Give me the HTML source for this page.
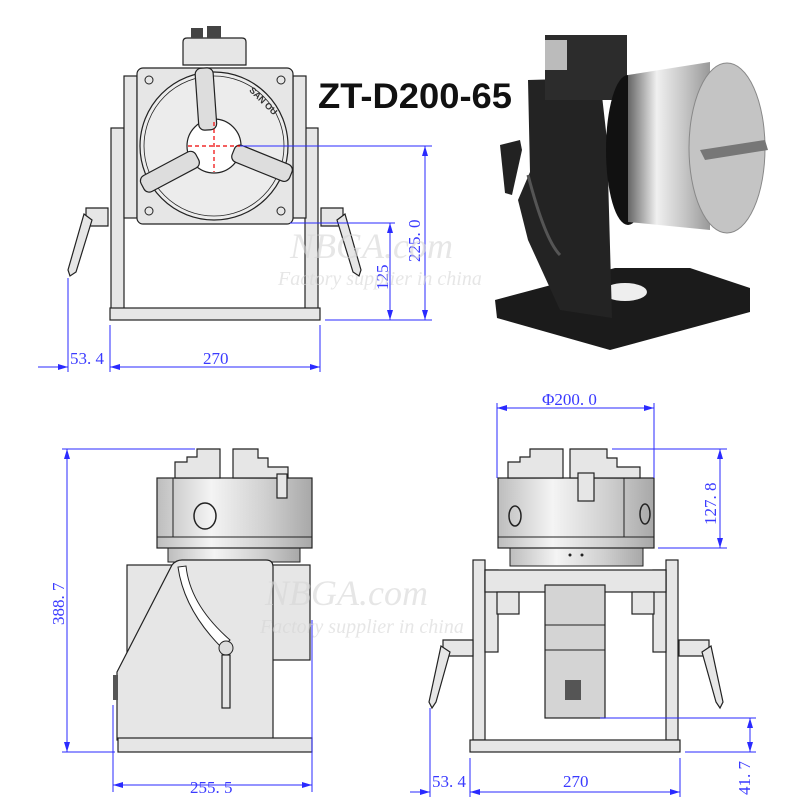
<!DOCTYPE html>
<html><head><meta charset="utf-8"><style>
html,body{margin:0;padding:0;background:#fff;width:800px;height:800px;overflow:hidden}
svg{display:block}
.d{fill:#3a3aff;font-family:"Liberation Serif",serif;font-size:17px}
.b{stroke:#2a2aff;stroke-width:1;fill:none}
.p{fill:#e6e6e6;stroke:#222;stroke-width:1.2}
.q{fill:#d4d4d4;stroke:#222;stroke-width:1.2}
</style></head><body>
<svg width="800" height="800" viewBox="0 0 800 800" xmlns="http://www.w3.org/2000/svg">
<defs>
<linearGradient id="cyl" x1="0" x2="1" y1="0" y2="0">
<stop offset="0" stop-color="#bdbdbd"/><stop offset="0.35" stop-color="#f4f4f4"/><stop offset="0.7" stop-color="#d0d0d0"/><stop offset="1" stop-color="#a8a8a8"/></linearGradient>
<linearGradient id="ph" x1="0" x2="1" y1="0" y2="0">
<stop offset="0" stop-color="#666"/><stop offset="0.35" stop-color="#f0f0f0"/><stop offset="0.7" stop-color="#c4c4c4"/><stop offset="1" stop-color="#999"/></linearGradient>
<marker id="a" viewBox="0 0 10 6" refX="10" refY="3" markerWidth="10" markerHeight="6" orient="auto-start-reverse" markerUnits="userSpaceOnUse"><path d="M0 0 L10 3 L0 6 Z" fill="#2a2aff"/></marker>
</defs>

<!-- ===== TOP LEFT FRONT VIEW ===== -->
<rect x="111" y="128" width="13" height="182" class="p"/>
<rect x="305" y="128" width="13" height="182" class="p"/>
<rect x="124" y="76" width="13" height="142" class="p"/>
<rect x="293" y="76" width="13" height="142" class="p"/>
<rect x="110" y="308" width="210" height="12" class="p"/>
<path d="M183 65 L183 42 Q183 38 187 38 L242 38 Q246 38 246 42 L246 65 Z" class="p"/>
<rect x="191" y="28" width="12" height="10" fill="#444"/><rect x="207" y="26" width="14" height="12" fill="#444"/>
<rect x="137" y="68" width="156" height="156" rx="6" class="p"/>
<circle cx="214" cy="146" r="74" fill="#ececec" stroke="#222" stroke-width="1.2"/>
<circle cx="214" cy="146" r="70" fill="none" stroke="#222" stroke-width="0.8"/>
<circle cx="214" cy="146" r="27" fill="#fff" stroke="#222" stroke-width="1.2"/>
<circle cx="149" cy="80" r="4" fill="none" stroke="#222"/><circle cx="281" cy="80" r="4" fill="none" stroke="#222"/>
<circle cx="149" cy="211" r="4" fill="none" stroke="#222"/><circle cx="281" cy="211" r="4" fill="none" stroke="#222"/>
<g fill="#ddd" stroke="#222" stroke-width="1.2">
<rect x="197" y="68" width="18" height="62" rx="6" transform="rotate(-4 206 100)"/>
<rect x="203" y="68" width="18" height="62" rx="6" transform="rotate(112 214 146) translate(0 -4)"/>
<rect x="203" y="68" width="18" height="62" rx="6" transform="rotate(-118 214 146) translate(0 -4)"/>
</g>
<path d="M188 146 H240 M214 122 V172" stroke="#e00" stroke-dasharray="4 3" stroke-width="1.2"/>
<text x="245" y="100" font-family="Liberation Sans,sans-serif" font-size="9" font-weight="bold" fill="#333" transform="rotate(45 258 100)">SAN OU</text>
<g class="p">
<path d="M86 208 L108 208 L108 226 L86 226 Z"/>
<path d="M84 214 L92 220 L76 272 L70 276 L68 270 Z"/>
<path d="M343 208 L321 208 L321 226 L343 226 Z"/>
<path d="M345 214 L337 220 L353 272 L359 276 L361 270 Z"/>
</g>
<text x="318" y="108" font-family="Liberation Sans,sans-serif" font-weight="bold" font-size="35" fill="#111" textLength="194" lengthAdjust="spacingAndGlyphs">ZT-D200-65</text>
<!-- dims top -->
<g class="b">
<path d="M68 278 V372 M110 325 V372 M320 325 V372"/>
<path d="M38 367 H68" marker-end="url(#a)"/>
<path d="M110 367 H320" marker-start="url(#a)" marker-end="url(#a)"/>
<path d="M240 146 H432 M325 320 H432"/>
<path d="M425 146 V320" marker-start="url(#a)" marker-end="url(#a)"/>
<path d="M290 223 H395"/>
<path d="M390 223 V320" marker-start="url(#a)" marker-end="url(#a)"/>
</g>
<text class="d" x="70" y="364">53. 4</text>
<text class="d" x="203" y="364">270</text>
<text class="d" transform="translate(420 262) rotate(-90)">225. 0</text>
<text class="d" transform="translate(388 290) rotate(-90)">125</text>

<!-- ===== PHOTO ===== -->
<polygon points="497,318 495,300 615,268 690,268 750,288 750,312 610,350" fill="#1b1b1b"/>
<ellipse cx="625" cy="292" rx="22" ry="9" fill="#eee"/>
<polygon points="528,80 600,78 607,140 612,318 560,310 528,240 518,200 530,172" fill="#232323"/>
<path d="M528 175 Q545 240 560 255" stroke="#555" stroke-width="3" fill="none"/>
<rect x="545" y="35" width="82" height="65" fill="#2c2c2c"/>
<rect x="545" y="40" width="22" height="30" fill="#bbb"/>
<ellipse cx="628" cy="150" rx="22" ry="75" fill="#111"/>
<path d="M628 75 L710 62 L710 230 L628 222 Z" fill="url(#ph)"/>
<ellipse cx="727" cy="148" rx="38" ry="85" fill="#c4c4c4" stroke="#888"/>
<path d="M700 150 L765 140 L768 150 L705 160 Z" fill="#777"/>
<path d="M500 145 L520 140 L522 150 L512 195 L505 193 Z" fill="#222"/>

<!-- ===== BOTTOM LEFT SIDE VIEW ===== -->
<rect x="127" y="565" width="183" height="95" class="p"/>
<rect x="168" y="548" width="132" height="14" fill="url(#cyl)" stroke="#222"/>
<rect x="157" y="478" width="155" height="70" fill="url(#cyl)" stroke="#222" stroke-width="1.2"/>
<line x1="157" y1="537" x2="312" y2="537" stroke="#222"/>
<line x1="173" y1="478" x2="173" y2="537" stroke="#222"/>
<ellipse cx="205" cy="516" rx="11" ry="13" fill="none" stroke="#222" stroke-width="1.5"/>
<path d="M175 478 V462 H187 V457 H197 V449 H220 V478 Z" class="p"/>
<path d="M233 478 V449 H258 V458 H268 V467 H288 V478 Z" class="p"/>
<rect x="277" y="474" width="10" height="24" class="p"/>
<path d="M117 740 L117 672 L172 565 Q176 560 182 560 L266 560 Q273 560 273 567 L273 740 Z" class="p"/>
<path d="M178 567 Q184 610 222 648 L230 640 Q190 605 186 566 Z" fill="#fff" stroke="#222"/>
<circle cx="226" cy="648" r="7" fill="#ddd" stroke="#222"/>
<rect x="222" y="655" width="8" height="53" class="p"/>
<rect x="113" y="675" width="5" height="25" fill="#555"/>
<rect x="118" y="738" width="194" height="14" class="p"/>
<g class="b">
<path d="M62 449 H195 M62 752 H115"/>
<path d="M67 449 V752" marker-start="url(#a)" marker-end="url(#a)"/>
<path d="M113 705 V792 M312 620 V792"/>
<path d="M113 785 H312" marker-start="url(#a)" marker-end="url(#a)"/>
</g>
<text class="d" transform="translate(64 625) rotate(-90)">388. 7</text>
<text class="d" x="190" y="793">255. 5</text>

<!-- ===== BOTTOM RIGHT FRONT VIEW ===== -->
<rect x="473" y="560" width="12" height="180" class="p"/>
<rect x="666" y="560" width="12" height="180" class="p"/>
<rect x="485" y="570" width="13" height="82" class="p"/>
<rect x="653" y="570" width="13" height="82" class="p"/>
<rect x="485" y="570" width="181" height="22" class="p"/>
<rect x="497" y="592" width="22" height="22" class="p"/><rect x="632" y="592" width="22" height="22" class="p"/>
<rect x="545" y="585" width="60" height="133" class="q"/>
<line x1="545" y1="625" x2="605" y2="625" stroke="#222"/>
<line x1="545" y1="650" x2="605" y2="650" stroke="#222"/>
<rect x="565" y="680" width="16" height="20" fill="#555"/>
<rect x="510" y="548" width="133" height="18" fill="url(#cyl)" stroke="#222"/>
<rect x="498" y="478" width="156" height="70" fill="url(#cyl)" stroke="#222" stroke-width="1.2"/>
<line x1="498" y1="537" x2="654" y2="537" stroke="#222"/>
<line x1="624" y1="478" x2="624" y2="537" stroke="#222"/>
<ellipse cx="515" cy="516" rx="6" ry="10" fill="none" stroke="#222" stroke-width="1.5"/>
<ellipse cx="645" cy="514" rx="5" ry="10" fill="none" stroke="#222" stroke-width="1.5"/>
<path d="M508 478 V462 H520 V457 H530 V449 H563 V478 Z" class="p"/>
<path d="M570 478 V449 H607 V458 H617 V467 H640 V478 Z" class="p"/>
<rect x="578" y="473" width="16" height="28" class="p"/>
<circle cx="570" cy="555" r="1.5" fill="#222"/><circle cx="582" cy="555" r="1.5" fill="#222"/>
<rect x="470" y="740" width="210" height="12" class="p"/>
<g class="p">
<path d="M443 640 L473 640 L473 656 L443 656 Z"/>
<path d="M441 646 L450 652 L436 702 L432 708 L429 702 Z"/>
<path d="M709 640 L679 640 L679 656 L709 656 Z"/>
<path d="M711 646 L702 652 L716 702 L720 708 L723 702 Z"/>
</g>
<g class="b">
<path d="M497 403 V478 M654 403 V478"/>
<path d="M497 408 H654" marker-start="url(#a)" marker-end="url(#a)"/>
<path d="M612 449 H727 M658 548 H727"/>
<path d="M720 449 V548" marker-start="url(#a)" marker-end="url(#a)"/>
<path d="M600 718 H756 M685 752 H756"/>
<path d="M750 718 V752" marker-start="url(#a)" marker-end="url(#a)"/>
<path d="M430 708 V797 M470 758 V797 M680 758 V797"/>
<path d="M410 792 H430" marker-end="url(#a)"/>
<path d="M470 792 H680" marker-start="url(#a)" marker-end="url(#a)"/>
</g>
<text class="d" x="542" y="405">Φ200. 0</text>
<text class="d" transform="translate(716 525) rotate(-90)">127. 8</text>
<text class="d" transform="translate(750 795) rotate(-90)">41. 7</text>
<text class="d" x="432" y="787">53. 4</text>
<text class="d" x="563" y="787">270</text>

<!-- watermarks -->
<g fill="#d6d6d6" opacity="0.6" font-family="Liberation Serif,serif" font-style="italic">
<text x="290" y="258" font-size="36">NBGA.com</text>
<text x="278" y="285" font-size="20">Factory supplier in china</text>
<text x="265" y="605" font-size="36">NBGA.com</text>
<text x="260" y="633" font-size="20">Factory supplier in china</text>
</g>
</svg>
</body></html>
